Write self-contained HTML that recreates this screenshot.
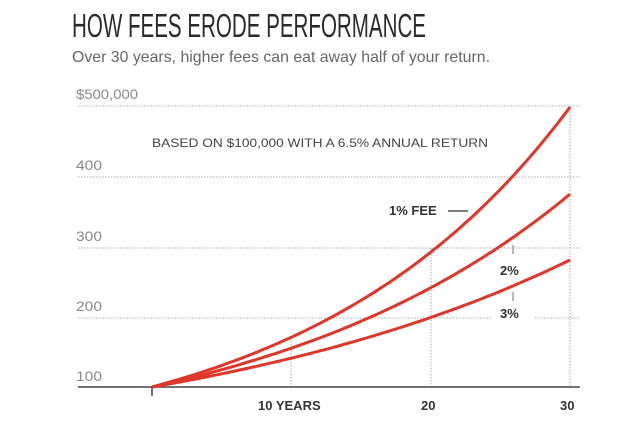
<!DOCTYPE html>
<html><head><meta charset="utf-8"><style>
html,body{margin:0;padding:0;background:#fff;}
svg{display:block;}
</style></head><body>
<svg width="622" height="427" viewBox="0 0 622 427" xmlns="http://www.w3.org/2000/svg" font-family="Liberation Sans, sans-serif">
<text x="72" y="37" font-size="33" fill="#2a2a2a" textLength="354" lengthAdjust="spacingAndGlyphs">HOW FEES ERODE PERFORMANCE</text>
<text x="72" y="62" font-size="16" fill="#666" textLength="418" lengthAdjust="spacingAndGlyphs">Over 30 years, higher fees can eat away half of your return.</text>
<g font-size="14" fill="#888">
<text x="76" y="99" textLength="62" lengthAdjust="spacingAndGlyphs">$500,000</text>
<text x="76" y="170" textLength="26" lengthAdjust="spacingAndGlyphs">400</text>
<text x="76" y="241" textLength="26" lengthAdjust="spacingAndGlyphs">300</text>
<text x="76" y="311" textLength="26" lengthAdjust="spacingAndGlyphs">200</text>
<text x="76" y="381" textLength="26" lengthAdjust="spacingAndGlyphs">100</text>
</g>
<g stroke="#aaa" stroke-width="1" stroke-dasharray="1.5,1.5">
<line x1="78" y1="106" x2="580" y2="106"/>
<line x1="78" y1="177" x2="580" y2="177"/>
<line x1="78" y1="248" x2="580" y2="248"/>
<line x1="78" y1="318" x2="492" y2="318"/>
<line x1="535" y1="318" x2="580" y2="318"/>
<line x1="291" y1="338" x2="291" y2="387"/>
<line x1="431" y1="248" x2="431" y2="387"/>
<line x1="570" y1="106" x2="570" y2="387"/>
</g>
<text x="320" y="147" font-size="12" fill="#444" text-anchor="middle" textLength="336" lengthAdjust="spacingAndGlyphs">BASED ON $100,000 WITH A 6.5% ANNUAL RETURN</text>
<line x1="78" y1="387" x2="580" y2="387" stroke="#444" stroke-width="1.5"/>
<line x1="152" y1="387" x2="152" y2="396" stroke="#444" stroke-width="1.5"/>
<g font-size="13" font-weight="bold" fill="#333">
<text x="258" y="410">10 YEARS</text>
<text x="421" y="410">20</text>
<text x="560" y="410">30</text>
<text x="389" y="215">1% FEE</text>
<text x="500" y="275">2%</text>
<text x="500" y="318">3%</text>
</g>
<line x1="448" y1="211" x2="468" y2="211" stroke="#333" stroke-width="1.2"/>
<line x1="513" y1="245" x2="513" y2="254" stroke="#888" stroke-width="1.2"/>
<line x1="513" y1="292" x2="513" y2="301" stroke="#888" stroke-width="1.2"/>
<g fill="none" stroke="#e0362a" stroke-width="3" id="c"></g>
<script>
var g=document.getElementById('c');
[0.055,0.045,0.035].forEach(function(r){
 var d='';
 for(var t=0;t<=30;t+=0.5){
  var v=100*Math.pow(1+r,t);
  var x=152+t*13.93, y=387-(v-100)*0.7025;
  d+=(t?'L':'M')+x.toFixed(1)+','+y.toFixed(1);
 }
 var p=document.createElementNS('http://www.w3.org/2000/svg','path');
 p.setAttribute('d',d);g.appendChild(p);
});
</script>
</svg>
</body></html>
